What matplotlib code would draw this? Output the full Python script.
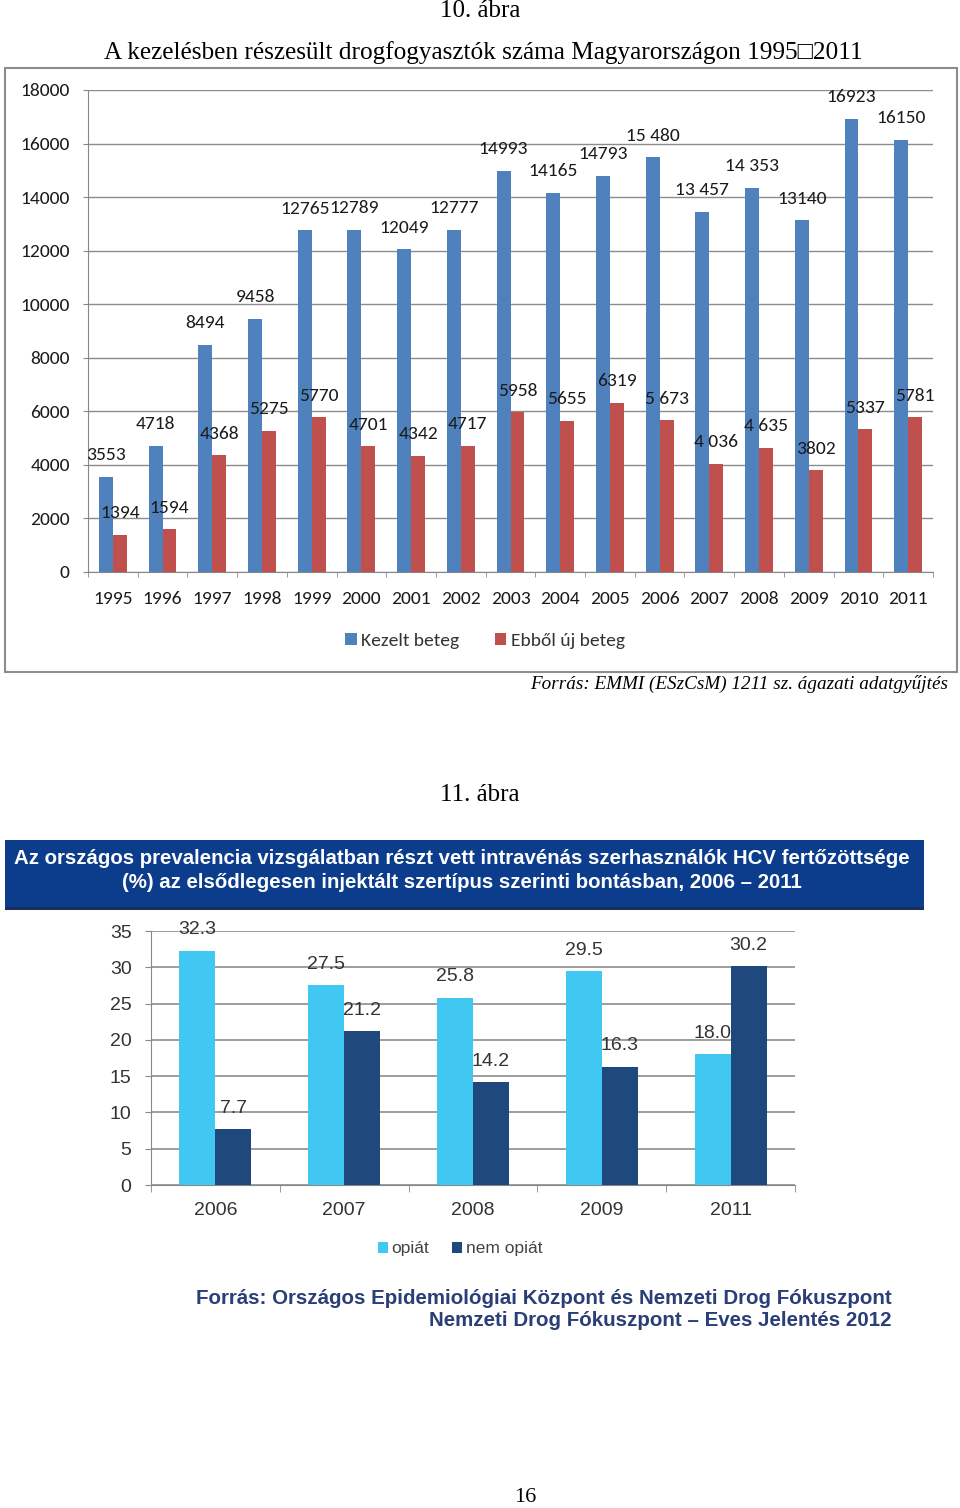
import matplotlib
matplotlib.use("Agg")
import matplotlib.pyplot as plt
import numpy as np
from matplotlib import font_manager
from matplotlib.patches import Rectangle

# ---------------- data ----------------
years1 = ["1995", "1996", "1997", "1998", "1999", "2000", "2001", "2002", "2003",
          "2004", "2005", "2006", "2007", "2008", "2009", "2010", "2011"]
kezelt = [3553, 4718, 8494, 9458, 12765, 12789, 12049, 12777, 14993,
          14165, 14793, 15480, 13457, 14353, 13140, 16923, 16150]
uj = [1394, 1594, 4368, 5275, 5770, 4701, 4342, 4717, 5958,
      5655, 6319, 5673, 4036, 4635, 3802, 5337, 5781]
kezelt_lbl = ["3553", "4718", "8494", "9458", "12765", "12789", "12049", "12777", "14993",
              "14165", "14793", "15 480", "13 457", "14 353", "13140", "16923", "16150"]
uj_lbl = ["1394", "1594", "4368", "5275", "5770", "4701", "4342", "4717", "5958",
          "5655", "6319", "5 673", "4 036", "4 635", "3802", "5337", "5781"]
yticks1 = [0, 2000, 4000, 6000, 8000, 10000, 12000, 14000, 16000, 18000]

years2 = ["2006", "2007", "2008", "2009", "2011"]
opiat = [32.3, 27.5, 25.8, 29.5, 18.0]
nem_opiat = [7.7, 21.2, 14.2, 16.3, 30.2]
yticks2 = [0, 5, 10, 15, 20, 25, 30, 35]

# ---------------- fonts ----------------
avail = {f.name for f in font_manager.fontManager.ttflist}
def pick(*names):
    for n in names:
        if n in avail:
            return n
    return "DejaVu Sans"
CAL = pick("Carlito", "Lato", "Open Sans")
NARROW = pick("Liberation Sans Narrow", "Liberation Sans")
SERIF = pick("Liberation Serif", "DejaVu Serif")

W, H = 960, 1508
fig = plt.figure(figsize=(W / 100, H / 100), dpi=100)
fig.patch.set_facecolor("white")

def fx(x):
    return x / W
def fy(y):
    return 1 - y / H
def axrect(l, t, r, b):
    return [l / W, 1 - b / H, (r - l) / W, (b - t) / H]

# ---------------- page texts ----------------
fig.text(fx(480), fy(11), "10. ábra", ha="center", va="center",
         fontsize=18, family=SERIF)
fig.text(fx(483), fy(53), "A kezelésben részesült drogfogyasztók száma Magyarországon 1995\u25a12011",
         ha="center", va="center", fontsize=18.2, family=[SERIF, "DejaVu Sans"])

# outer box of chart 1
fig.patches.append(Rectangle((fx(5), fy(672)), fx(952), (672 - 68) / H,
                             transform=fig.transFigure, fill=False,
                             edgecolor="#8c8c8c", linewidth=1.5))

# ---------------- chart 1 ----------------
FS1 = 14
ax1 = fig.add_axes(axrect(88, 90, 933, 572))
x1 = np.arange(len(years1))
bw = 0.28
blue = "#4F81BD"
red = "#C0504D"
b1 = ax1.bar(x1 - bw / 2, kezelt, bw, color=blue, label="Kezelt beteg", zorder=3)
b2 = ax1.bar(x1 + bw / 2, uj, bw, color=red, label="Ebből új beteg", zorder=3)
for xi, v, s in zip(x1, kezelt, kezelt_lbl):
    ax1.annotate(s, (xi - bw / 2, v), xytext=(0, 15.5), textcoords="offset points",
                 ha="center", va="center", fontsize=FS1, family=CAL, color="#1a1a1a")
for xi, v, s in zip(x1, uj, uj_lbl):
    ax1.annotate(s, (xi + bw / 2, v), xytext=(0, 15.5), textcoords="offset points",
                 ha="center", va="center", fontsize=FS1, family=CAL, color="#1a1a1a")
ax1.set_xlim(-0.5, len(years1) - 0.5)
ax1.set_ylim(0, 18000)
ax1.set_yticks(yticks1)
ax1.set_yticklabels([str(t) for t in yticks1], fontsize=FS1, family=CAL, color="#1a1a1a")
ax1.set_xticks(x1)
ax1.set_xticklabels(years1, fontsize=FS1, family=CAL, color="#1a1a1a")
ax1.set_xticks(np.arange(-0.5, len(years1)), minor=True)
ax1.tick_params(axis="x", which="major", length=0, pad=14)
ax1.tick_params(axis="x", which="minor", length=3.6, color="#888888", direction="out")
ax1.tick_params(axis="y", length=3.6, color="#888888", pad=9.5)
ax1.grid(axis="y", color="#8c8c8c", linewidth=1, zorder=0)
for s in ["top", "right"]:
    ax1.spines[s].set_visible(False)
for s in ["left", "bottom"]:
    ax1.spines[s].set_color("#888888")
leg1 = fig.legend(handles=[b1, b2], loc="center", bbox_to_anchor=(fx(485), fy(641)),
                  ncol=2, frameon=False, handlelength=0.6, handleheight=0.6,
                  handletextpad=0.25, columnspacing=1.8,
                  prop={"family": CAL, "size": FS1})
for t in leg1.get_texts():
    t.set_color("#333333")

fig.text(fx(948), fy(684), "Forrás: EMMI (ESzCsM) 1211 sz. ágazati adatgyűjtés",
         ha="right", va="center", fontsize=13.8, family=SERIF, style="italic")

# ---------------- chart 2 ----------------
fig.text(fx(480), fy(795), "11. ábra", ha="center", va="center",
         fontsize=18, family=SERIF)

fig.patches.append(Rectangle((fx(5), fy(908)), fx(919), (908 - 840) / H,
                             transform=fig.transFigure, facecolor="#0c3d8c",
                             edgecolor="none"))
fig.patches.append(Rectangle((fx(5), fy(910)), fx(919), 3 / H,
                             transform=fig.transFigure, facecolor="#1c2f5c",
                             edgecolor="none"))
fig.text(fx(462), fy(859),
         "Az országos prevalencia vizsgálatban részt vett intravénás szerhasználók HCV fertőzöttsége",
         ha="center", va="center", fontsize=14.7, family=NARROW, weight="bold", color="white")
fig.text(fx(462), fy(883),
         "(%) az elsődlegesen injektált szertípus szerinti bontásban, 2006 – 2011",
         ha="center", va="center", fontsize=14.7, family=NARROW, weight="bold", color="white")

ax2 = fig.add_axes(axrect(151, 931, 795, 1185))
x2 = np.arange(len(years2))
lb = "#41C8F2"
db = "#1F497D"
c1 = ax2.bar(x2 - bw / 2, opiat, bw, color=lb, label="opiát", zorder=3)
c2 = ax2.bar(x2 + bw / 2, nem_opiat, bw, color=db, label="nem opiát", zorder=3)
for xi, v in zip(x2, opiat):
    ax2.annotate(f"{v:.1f}", (xi - bw / 2, v), xytext=(0, 15), textcoords="offset points",
                 ha="center", va="center", fontsize=14, family=NARROW, color="#333333")
for xi, v in zip(x2, nem_opiat):
    ax2.annotate(f"{v:.1f}", (xi + bw / 2, v), xytext=(0, 15), textcoords="offset points",
                 ha="center", va="center", fontsize=14, family=NARROW, color="#333333")
ax2.set_xlim(-0.5, len(years2) - 0.5)
ax2.set_ylim(0, 35)
ax2.set_yticks(yticks2)
ax2.set_yticklabels([str(t) for t in yticks2], fontsize=14, family=NARROW, color="#333333")
ax2.set_xticks(x2)
ax2.set_xticklabels(years2, fontsize=14, family=NARROW, color="#333333")
ax2.set_xticks(np.arange(-0.5, len(years2)), minor=True)
ax2.tick_params(axis="x", which="major", length=0, pad=12)
ax2.tick_params(axis="x", which="minor", length=5, color="#888888", direction="out")
ax2.tick_params(axis="y", length=4, color="#888888", pad=10)
ax2.grid(axis="y", color="#8c8c8c", linewidth=1.2, zorder=0)
for s in ["top", "right"]:
    ax2.spines[s].set_visible(False)
for s in ["left", "bottom"]:
    ax2.spines[s].set_color("#888888")
leg2 = fig.legend(handles=[c1, c2], loc="center", bbox_to_anchor=(fx(460), fy(1249)),
                  ncol=2, frameon=False, handlelength=0.6, handleheight=0.6,
                  handletextpad=0.2, columnspacing=1.3,
                  prop={"family": NARROW, "size": 12.5})
for t in leg2.get_texts():
    t.set_color("#444444")

fig.text(fx(892), fy(1298), "Forrás: Országos Epidemiológiai Központ és Nemzeti Drog Fókuszpont",
         ha="right", va="center", fontsize=14.8, family=NARROW, weight="bold", color="#2a3f78")
fig.text(fx(892), fy(1320), "Nemzeti Drog Fókuszpont – Eves Jelentés 2012",
         ha="right", va="center", fontsize=14.8, family=NARROW, weight="bold", color="#2a3f78")

fig.text(fx(525), fy(1497), "16", ha="center", va="center", fontsize=16, family=SERIF)

fig.savefig("out.png", dpi=100, facecolor="white")
